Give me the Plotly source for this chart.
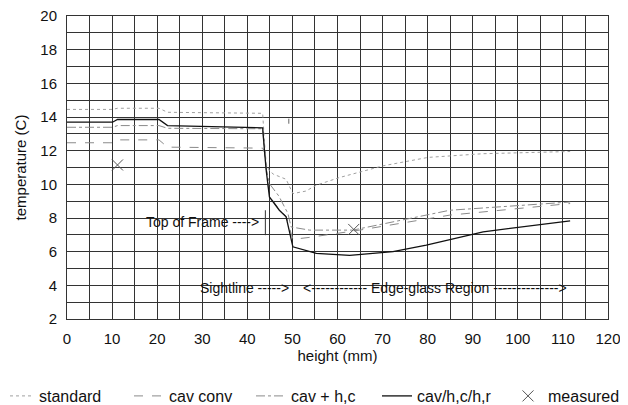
import plotly.graph_objects as go

# ---- data (height in mm, temperature in C) ----
std_x = [0, 10.1, 11.2, 20.4, 22.3, 43.4, 43.8, 44.2, 44.9, 45.8, 48.6, 50.1, 53.0, 55.3, 60.4, 70.1, 80.1, 92.3, 111.6]
std_y = [14.45, 14.45, 14.52, 14.52, 14.28, 14.22, 12.5, 11.2, 10.8, 10.6, 10.3, 9.45, 9.6, 9.95, 10.4, 11.1, 11.6, 11.82, 11.95]

conv_x = [0, 10.1, 11.2, 20.4, 22.3, 43.4, 43.8, 44.2, 44.9, 47.1, 48.6, 50.1, 53.8, 64.9, 84.9, 111.6]
conv_y = [12.47, 12.47, 12.64, 12.64, 12.21, 12.15, 11.9, 10.8, 9.3, 8.5, 8.1, 6.73, 6.85, 7.28, 8.17, 8.86]

hc_x = [0, 10.1, 11.2, 20.4, 22.3, 43.4, 43.8, 44.2, 44.9, 47.0, 49.0, 49.7, 50.1, 53.8, 63.4, 84.9, 111.6]
hc_y = [13.39, 13.39, 13.49, 13.49, 13.33, 13.3, 12.0, 10.9, 10.04, 9.3, 8.27, 7.47, 7.45, 7.28, 7.28, 8.46, 8.95]

full_x = [0, 10.1, 11.2, 20.4, 22.3, 43.4, 43.8, 44.2, 44.9, 47.1, 48.6, 50.1, 55.3, 62.7, 72.3, 79.7, 92.3, 111.6]
full_y = [13.69, 13.69, 13.85, 13.85, 13.49, 13.36, 12.0, 10.8, 9.25, 8.46, 8.07, 6.29, 5.9, 5.78, 6.0, 6.39, 7.18, 7.83]

meas_x = [11.2, 63.6]
meas_y = [11.15, 7.32]

x_ticks = [0, 10, 20, 30, 40, 50, 60, 70, 80, 90, 100, 110, 120]
y_ticks = [2, 4, 6, 8, 10, 12, 14, 16, 18, 20]

FONT = "Liberation Sans, Arial, sans-serif"
GRID = "#333333"
GRAY = "#8a8a8a"

fig = go.Figure()
fig.add_trace(go.Scatter(x=std_x, y=std_y, mode="lines", name="standard", legend="legend",
                         line=dict(color="#a0a0a0", width=1, dash="dot")))
fig.add_trace(go.Scatter(x=conv_x, y=conv_y, mode="lines", name="cav conv", legend="legend2",
                         line=dict(color=GRAY, width=1, dash="dash")))
fig.add_trace(go.Scatter(x=hc_x, y=hc_y, mode="lines", name="cav + h,c", legend="legend3",
                         line=dict(color=GRAY, width=1, dash="dashdot")))
fig.add_trace(go.Scatter(x=full_x, y=full_y, mode="lines", name="cav/h,c/h,r", legend="legend4",
                         line=dict(color="#111111", width=1.3)))
fig.add_trace(go.Scatter(x=meas_x, y=meas_y, mode="markers", name="measured", legend="legend5",
                         marker=dict(symbol="x-thin", size=11, line=dict(color="#555555", width=1))))

# annotation marks
fig.add_shape(type="line", x0=44.0, x1=44.0, y0=6.98, y1=8.46,
              line=dict(color="#333333", width=1))
fig.add_shape(type="line", x0=49.2, x1=49.2, y0=13.6, y1=13.9,
              line=dict(color="#666666", width=1))

ann_font = dict(family=FONT, size=14, color="#111111")
fig.add_annotation(x=43.1, y=7.75, text="Top of Frame ---->", showarrow=False,
                   xanchor="right", yanchor="middle", font=ann_font)
fig.add_annotation(x=49.6, y=3.85, text="Sightline ----->", showarrow=False,
                   xanchor="right", yanchor="middle", font=ann_font)
fig.add_annotation(x=52.0, y=3.85, text="<------------ Edge-glass Region -------------->",
                   showarrow=False, xanchor="left", yanchor="middle", font=ann_font)

# figure sits inside the page body with an 8px margin
L, R, T, B = 59, 20, 8, 86
W, H = 620, 397
PW = W - L - R
PH = H - T - B

def lx(win_px):
    return (win_px - 8 - L) / PW

leg_y = (H - B - (396 - 8)) / PH
leg_common = dict(orientation="h", y=leg_y, yanchor="middle", xanchor="left",
                  font=dict(family=FONT, size=16, color="#111111"),
                  bgcolor="rgba(0,0,0,0)", borderwidth=0)
starts = [-1, 129, 251, 377, 508]

fig.update_layout(
    width=W, height=H,
    margin=dict(l=L, r=R, t=T, b=B, autoexpand=False),
    paper_bgcolor="white", plot_bgcolor="white",
    font=dict(family=FONT, size=15, color="#111111"),
    showlegend=True,
    legend=dict(x=lx(starts[0]), **leg_common),
    legend2=dict(x=lx(starts[1]), **leg_common),
    legend3=dict(x=lx(starts[2]), **leg_common),
    legend4=dict(x=lx(starts[3]), **leg_common),
    legend5=dict(x=lx(starts[4]), **leg_common),
)
fig.update_xaxes(range=[0, 120], tickvals=x_ticks, ticktext=[str(v) for v in x_ticks],
                 showgrid=True, gridcolor=GRID, gridwidth=1,
                 minor=dict(dtick=5, showgrid=True, gridcolor=GRID, gridwidth=1),
                 showline=True, linecolor=GRID, mirror=True, zeroline=False,
                 ticks="", ticklabelstandoff=6, automargin=False, ticklabeloverflow="allow",
                 title=dict(text="height (mm)", font=dict(size=15), standoff=4))
fig.update_yaxes(range=[2, 20], tickvals=y_ticks, ticktext=[str(v) for v in y_ticks],
                 showgrid=True, gridcolor=GRID, gridwidth=1,
                 minor=dict(dtick=1, showgrid=True, gridcolor=GRID, gridwidth=1),
                 showline=True, linecolor=GRID, mirror=True, zeroline=False,
                 ticks="", ticklabelstandoff=6, automargin=False, ticklabeloverflow="allow",
                 title=dict(text="temperature (C)", font=dict(size=15), standoff=10))

fig.write_html("out.html")
